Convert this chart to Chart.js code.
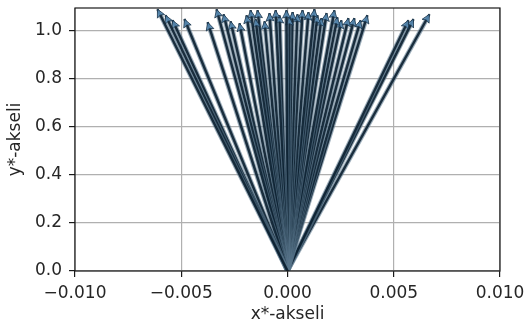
<!DOCTYPE html>
<html>
<head>
<meta charset="utf-8">
<script src="https://cdn.jsdelivr.net/npm/chart.js@4"></script>
<style>
  html, body { margin: 0; padding: 0; background: #fff; }
  #wrap { width: 527px; height: 329px; }
</style>
</head>
<body>
<div id="wrap"><canvas id="vectorPlot" width="527" height="329"></canvas></div>
<script>
// End points of the vectors; every vector starts at the origin
const tipX = [
    -0.00612, -0.00574, -0.00541, -0.00485, -0.00376, -0.00334, -0.00301, -0.00268,
    -0.00226, -0.00193, -0.00174, -0.00151, -0.00141, -0.00108, -0.00085, -0.00056,
    -0.00038, -0.00005, 0.00009, 0.00024, 0.00047, 0.00071, 0.00099, 0.00127,
    0.00141, 0.00160, 0.00184, 0.00221, 0.00235, 0.00254, 0.00287, 0.00315,
    0.00344, 0.00376, 0.00569, 0.00593, 0.00668
];
const tipY = [
    1.087, 1.062, 1.041, 1.046, 1.033, 1.087, 1.066, 1.037,
    1.029, 1.062, 1.083, 1.046, 1.083, 1.037, 1.071, 1.083,
    1.062, 1.083, 1.054, 1.075, 1.066, 1.083, 1.075, 1.087,
    1.062, 1.050, 1.071, 1.083, 1.054, 1.041, 1.050, 1.050,
    1.041, 1.062, 1.041, 1.046, 1.066
];
const xTicks = [-0.010, -0.005, 0.000, 0.005, 0.010];
const yTicks = [0.0, 0.2, 0.4, 0.6, 0.8, 1.0];
const xLabel = 'x*-akseli';
const yLabel = 'y*-akseli';

const FONT = { family: 'DejaVu Sans', size: 17, lineHeight: 1 };

// one dataset per vector: origin -> tip
const datasets = tipX.map((x, i) => ({
    data: [{ x: 0, y: 0 }, { x: x, y: tipY[i] }],
    showLine: true,
    borderColor: 'rgba(8, 28, 44, 0.88)',
    borderWidth: 2.5,
    pointRadius: 0,
    pointHoverRadius: 0
}));

function headGeometry(p0, p1) {
    const dx = p1.x - p0.x, dy = p1.y - p0.y;
    const len = Math.hypot(dx, dy) || 1;
    const ux = dx / len, uy = dy / len;
    return { ux: ux, uy: uy, nx: -uy, ny: ux };
}

function clipToArea(chart) {
    const a = chart.chartArea;
    chart.ctx.beginPath();
    chart.ctx.rect(a.left, a.top, a.right - a.left, a.bottom - a.top);
    chart.ctx.clip();
}

// light edge under each shaft and the arrow head on top of it
const arrowHeads = {
    id: 'arrowHeads',
    beforeDatasetDraw(chart, args) {
        const pts = chart.getDatasetMeta(args.index).data;
        const g = headGeometry(pts[0], pts[1]);
        const ctx = chart.ctx;
        ctx.save();
        clipToArea(chart);
        ctx.strokeStyle = 'rgba(90, 118, 140, 0.6)';
        ctx.lineWidth = 4.6;
        ctx.beginPath();
        ctx.moveTo(pts[0].x, pts[0].y);
        ctx.lineTo(pts[1].x - 6 * g.ux, pts[1].y - 6 * g.uy);
        ctx.stroke();
        ctx.restore();
    },
    afterDatasetDraw(chart, args) {
        const pts = chart.getDatasetMeta(args.index).data;
        const g = headGeometry(pts[0], pts[1]);
        const tx = pts[1].x, ty = pts[1].y;
        const L = 8, La = 6.5, h = 4;
        const ctx = chart.ctx;
        ctx.save();
        clipToArea(chart);
        ctx.beginPath();
        ctx.moveTo(tx, ty);
        ctx.lineTo(tx - L * g.ux + h * g.nx, ty - L * g.uy + h * g.ny);
        ctx.lineTo(tx - La * g.ux, ty - La * g.uy);
        ctx.lineTo(tx - L * g.ux - h * g.nx, ty - L * g.uy - h * g.ny);
        ctx.closePath();
        ctx.fillStyle = 'rgba(86, 138, 178, 0.9)';
        ctx.fill();
        ctx.strokeStyle = 'rgba(22, 50, 72, 0.8)';
        ctx.lineWidth = 1;
        ctx.stroke();
        ctx.restore();
    }
};

// all four spines
const frame = {
    id: 'frame',
    afterDraw(chart) {
        const a = chart.chartArea;
        const ctx = chart.ctx;
        ctx.save();
        ctx.strokeStyle = '#1a1a1a';
        ctx.lineWidth = 1.2;
        ctx.strokeRect(a.left, a.top, a.right - a.left, a.bottom - a.top);
        ctx.restore();
    }
};

function fmt(v, digits) {
    if (Math.abs(v) < 1e-12) v = 0;
    return v.toFixed(digits).replace('-', '\u2212');
}

const gridOpts = {
    color: '#b0b0b0',
    lineWidth: 1.2,
    tickColor: '#1a1a1a',
    tickWidth: 1.2,
    tickLength: 6
};

new Chart(document.getElementById('vectorPlot'), {
    type: 'scatter',
    data: { datasets: datasets },
    options: {
        responsive: false,
        animation: false,
        events: [],
        layout: { padding: { top: 8, right: 27, left: 0, bottom: 0 } },
        plugins: { legend: { display: false }, tooltip: { enabled: false } },
        scales: {
            x: {
                type: 'linear',
                min: -0.010,
                max: 0.010,
                z: 1,
                border: { display: false },
                grid: gridOpts,
                afterBuildTicks: s => { s.ticks = xTicks.map(v => ({ value: v })); },
                afterFit: s => {
                    s.height = 58;
                    s.paddingLeft = 0;
                    s.paddingRight = 0;
                },
                ticks: {
                    color: '#262626',
                    font: FONT,
                    padding: 8,
                    maxRotation: 0,
                    callback: v => fmt(v, 3)
                },
                title: {
                    display: true,
                    text: xLabel,
                    color: '#262626',
                    font: FONT,
                    padding: { top: 0, bottom: 6 }
                }
            },
            y: {
                type: 'linear',
                min: 0,
                max: 1.092,
                z: 1,
                border: { display: false },
                grid: gridOpts,
                afterBuildTicks: s => { s.ticks = yTicks.map(v => ({ value: v })); },
                afterFit: s => {
                    s.width = 75;
                    s.paddingTop = 0;
                    s.paddingBottom = 0;
                },
                ticks: {
                    color: '#262626',
                    font: FONT,
                    padding: 7,
                    callback: v => fmt(v, 1)
                },
                title: {
                    display: true,
                    text: yLabel,
                    color: '#262626',
                    font: FONT,
                    padding: { top: 7, bottom: 0 }
                }
            }
        }
    },
    plugins: [arrowHeads, frame]
});
</script>
</body>
</html>
